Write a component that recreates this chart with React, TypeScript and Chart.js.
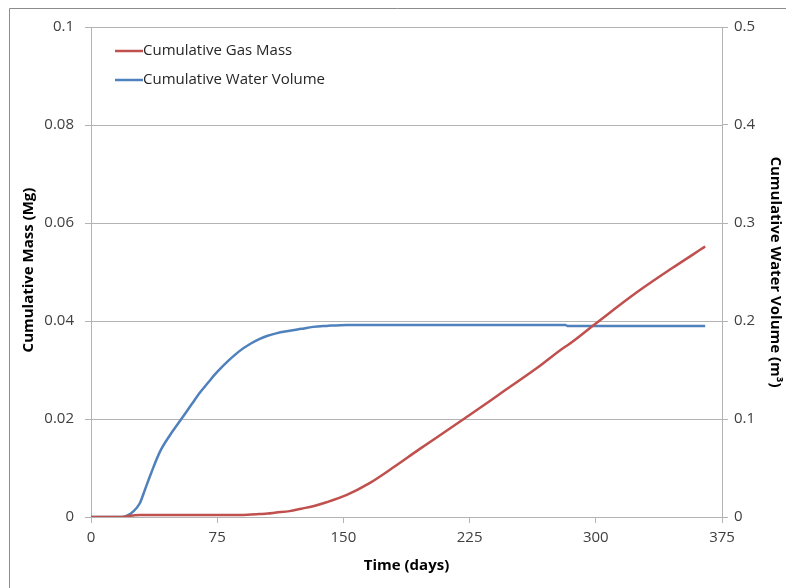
import React, { useEffect, useRef } from "react";
import { Chart, registerables } from "chart.js";

Chart.register(...registerables);

const days = [0, 10, 18, 22, 25, 29, 32, 36, 41, 47, 54, 60, 65, 70, 75, 82, 88, 95, 100, 105, 110, 118, 125, 132, 140, 152, 165, 180, 195, 210, 225, 245, 265, 282, 283, 300, 325, 345, 365];
const gasMass = [0, 0, 0, 0.0002, 0.0003, 0.0004, 0.0004, 0.0004, 0.0004, 0.0004, 0.0004, 0.0004, 0.0004, 0.0004, 0.0004, 0.0004, 0.0004, 0.0005, 0.0006, 0.0007, 0.0009, 0.0012, 0.0017, 0.0022, 0.003, 0.0045, 0.0068, 0.0102, 0.0138, 0.0173, 0.0208, 0.0256, 0.0304, 0.0348, 0.035, 0.0395, 0.046, 0.0507, 0.0552];
const waterVolume = [0, 0, 0, 0.002, 0.0054, 0.014, 0.0276, 0.046, 0.0667, 0.0837, 0.1007, 0.1155, 0.1275, 0.138, 0.148, 0.16, 0.169, 0.177, 0.1815, 0.185, 0.1874, 0.19, 0.192, 0.194, 0.195, 0.196, 0.196, 0.196, 0.196, 0.196, 0.196, 0.196, 0.196, 0.196, 0.195, 0.195, 0.195, 0.195, 0.195];

const seriesNames = ["Cumulative Gas Mass", "Cumulative Water Volume"];
const xTitle = "Time (days)";
const yLeftTitle = "Cumulative Mass (Mg)";
const yRightTitle = "Cumulative Water Volume (m\u00B3)";
const xTicks = [0, 75, 150, 225, 300, 375];
const yLeftTicks = [0, 0.02, 0.04, 0.06, 0.08, 0.1];
const yRightTicks = [0, 0.1, 0.2, 0.3, 0.4, 0.5];

const RED = "#C0504D";
const BLUE = "#4F81BD";
const FONT = "'Open Sans', 'DejaVu Sans', sans-serif";
const TEXT = "#404040";
const AXIS = "#B3B3B3";

const fmt = (v: number) => String(Number(v.toFixed(3)));

const decorPlugin = {
  id: "decor",
  beforeDraw(chart: any) {
    const ctx = chart.ctx;
    ctx.save();
    ctx.fillStyle = "#ffffff";
    ctx.fillRect(0, 0, chart.width, chart.height);
    ctx.strokeStyle = "#8C8C8C";
    ctx.lineWidth = 1;
    ctx.beginPath();
    ctx.moveTo(9.5, chart.height);
    ctx.lineTo(9.5, 8.5);
    ctx.lineTo(chart.width, 8.5);
    ctx.stroke();
    ctx.restore();
  },
  afterDraw(chart: any) {
    const ctx = chart.ctx;
    const area = chart.chartArea;
    ctx.save();
    const colors = [RED, BLUE];
    ctx.font = `15px ${FONT}`;
    ctx.textBaseline = "middle";
    ctx.textAlign = "left";
    seriesNames.forEach((name, i) => {
      const y = 51 + i * 29;
      ctx.strokeStyle = colors[i];
      ctx.lineWidth = 2.5;
      ctx.beginPath();
      ctx.moveTo(115, y);
      ctx.lineTo(143, y);
      ctx.stroke();
      ctx.fillStyle = "#262626";
      ctx.fillText(name, 143, y);
    });
    ctx.fillStyle = "#000000";
    ctx.font = `bold 15px ${FONT}`;
    ctx.textAlign = "center";
    ctx.fillText(xTitle, (area.left + area.right) / 2, 566);
    ctx.save();
    ctx.translate(29, 270);
    ctx.rotate(-Math.PI / 2);
    ctx.fillText(yLeftTitle, 0, 0);
    ctx.restore();
    ctx.save();
    ctx.translate(775, 272);
    ctx.rotate(Math.PI / 2);
    ctx.fillText(yRightTitle, 0, 0);
    ctx.restore();
    ctx.restore();
  },
};

export default function App() {
  const ref = useRef<HTMLCanvasElement | null>(null);
  useEffect(() => {
    if (!ref.current) return;
    const chart = new Chart(ref.current, {
      type: "line",
      data: {
        datasets: [
          {
            label: seriesNames[0],
            data: days.map((d, i) => ({ x: d, y: gasMass[i] })),
            borderColor: RED,
            backgroundColor: RED,
            borderWidth: 2.5,
            pointRadius: 0,
            cubicInterpolationMode: "monotone",
            yAxisID: "y",
          },
          {
            label: seriesNames[1],
            data: days.map((d, i) => ({ x: d, y: waterVolume[i] })),
            borderColor: BLUE,
            backgroundColor: BLUE,
            borderWidth: 2.5,
            pointRadius: 0,
            cubicInterpolationMode: "monotone",
            yAxisID: "y1",
          },
        ],
      },
      options: {
        animation: false,
        responsive: false,
        layout: { padding: { top: 27, left: 0, right: 0, bottom: 0 } },
        plugins: { legend: { display: false }, tooltip: { enabled: false } },
        scales: {
          x: {
            type: "linear",
            min: 0,
            max: 375,
            afterBuildTicks: (s: any) => {
              s.ticks = xTicks.map((v) => ({ value: v }));
            },
            afterFit: (s: any) => {
              s.height = 71;
            },
            grid: { drawOnChartArea: false, color: AXIS, tickLength: 6 },
            border: { color: AXIS, width: 1 },
            ticks: { color: TEXT, font: { family: FONT, size: 15 }, padding: 6, maxRotation: 0, callback: (v: any) => String(v) },
          },
          y: {
            type: "linear",
            position: "left",
            min: 0,
            max: 0.1,
            afterBuildTicks: (s: any) => {
              s.ticks = yLeftTicks.map((v) => ({ value: v }));
            },
            afterFit: (s: any) => {
              s.width = 91;
            },
            grid: { color: AXIS, tickLength: 6 },
            border: { color: AXIS, width: 1 },
            ticks: { color: TEXT, font: { family: FONT, size: 15 }, padding: 11, callback: (v: any) => fmt(Number(v)) },
          },
          y1: {
            type: "linear",
            position: "right",
            min: 0,
            max: 0.5,
            afterBuildTicks: (s: any) => {
              s.ticks = yRightTicks.map((v) => ({ value: v }));
            },
            afterFit: (s: any) => {
              s.width = 64;
            },
            grid: { drawOnChartArea: false, color: AXIS, tickLength: 6 },
            border: { color: AXIS, width: 1 },
            ticks: { color: TEXT, font: { family: FONT, size: 15 }, padding: 6, callback: (v: any) => fmt(Number(v)) },
          },
        },
      },
      plugins: [decorPlugin],
    } as any);
    return () => chart.destroy();
  }, []);
  return (
    <div style={{ position: "fixed", left: 0, top: 0, width: 786, height: 588 }}>
      <canvas ref={ref} width={786} height={588} style={{ display: "block" }} />
    </div>
  );
}
